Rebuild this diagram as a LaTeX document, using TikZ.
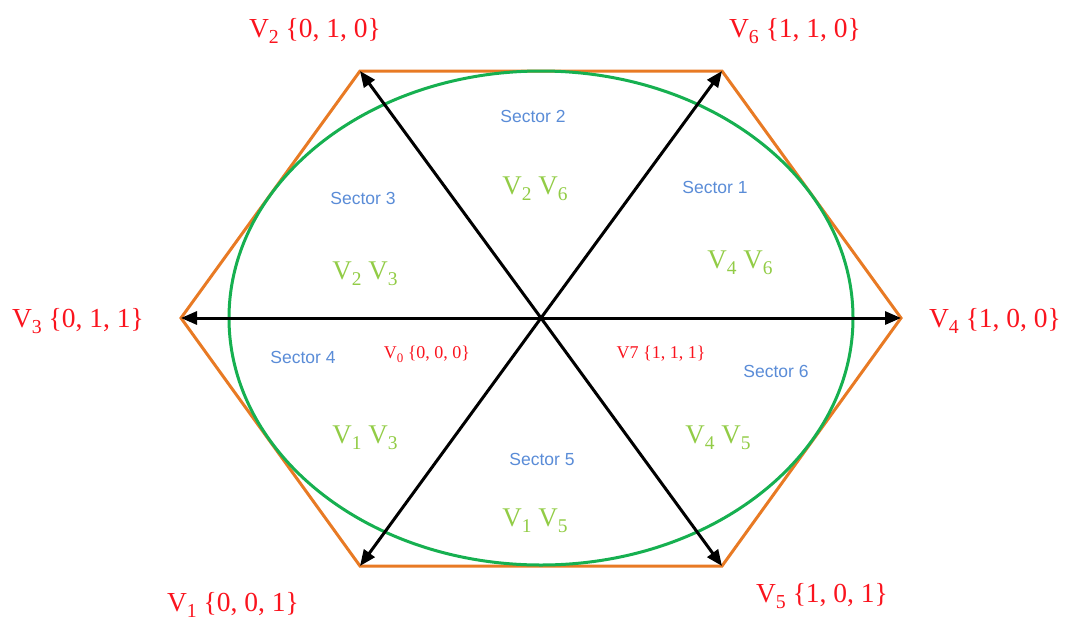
\documentclass[tikz,border=0pt]{standalone}
\usepackage{fontspec}
\setmainfont{Liberation Serif}
\newfontfamily\sectorfont{Liberation Sans}
\usetikzlibrary{arrows.meta}
\definecolor{hexline}{RGB}{232, 122, 36}
\definecolor{ellline}{RGB}{22, 176, 80}
\definecolor{vecred}{RGB}{250, 20, 30}
\definecolor{pairgreen}{RGB}{146, 204, 70}
\definecolor{sectblue}{RGB}{90, 140, 215}
\newcommand{\vsub}[1]{\raisebox{-0.22em}{\scalebox{0.72}{#1}}}
\tikzset{
  vlabel/.style={text=vecred, font=\fontsize{27.5}{30}\selectfont, inner sep=0pt},
  zlabel/.style={text=vecred, font=\fontsize{18}{20}\selectfont, inner sep=0pt},
  pair/.style={text=pairgreen, font=\fontsize{27}{30}\selectfont, inner sep=0pt},
  sector/.style={text=sectblue, font=\sectorfont\fontsize{17.5}{19}\selectfont, inner sep=0pt},
  vec/.style={line width=3pt, -{Triangle[length=16pt, width=13pt]}}
}

\begin{document}
\begin{tikzpicture}[x=1pt, y=-1pt]
  \useasboundingbox (0,0) rectangle (1070,624);
  % hexagon corners
  \coordinate (O) at (541,318);
  \coordinate (V4) at (901,318);
  \coordinate (V6) at (722,71);
  \coordinate (V2) at (360,71);
  \coordinate (V3) at (181,318);
  \coordinate (V1) at (360,566);
  \coordinate (V5) at (722,566);
  \draw[hexline, line width=3pt, line join=miter]
    (V4) -- (V6) -- (V2) -- (V3) -- (V1) -- (V5) -- cycle;
  \draw[ellline, line width=3pt] (O) ellipse (312 and 247);
  \foreach \v in {V1, V2, V3, V4, V5, V6}
    \draw[vec] (O) -- (\v);
  % vector labels
  \node[vlabel] (lV2) at (315,31) {V\vsub{2} \{0, 1, 0\}};
  \node[vlabel] (lV6) at (795,31) {V\vsub{6} \{1, 1, 0\}};
  \node[vlabel] (lV3) at (78,321) {V\vsub{3} \{0, 1, 1\}};
  \node[vlabel] (lV4) at (995,321) {V\vsub{4} \{1, 0, 0\}};
  \node[vlabel] (lV1) at (233,605) {V\vsub{1} \{0, 0, 1\}};
  \node[vlabel] (lV5) at (822,596) {V\vsub{5} \{1, 0, 1\}};
  \node[zlabel] (lV0) at (427,354) {V\vsub{0} \{0, 0, 0\}};
  \node[zlabel] (lV7) at (661,354) {V7 \{1, 1, 1\}};
  % sectors
  \node[sector] (s1) at (715,187) {Sector 1};
  \node[sector] (s2) at (533,116) {Sector 2};
  \node[sector] (s3) at (363,198) {Sector 3};
  \node[sector] (s4) at (303,357) {Sector 4};
  \node[sector] (s5) at (542,459) {Sector 5};
  \node[sector] (s6) at (776,371) {Sector 6};
  \node[pair] (p1) at (740,263) {V\vsub{4} V\vsub{6}};
  \node[pair] (p2) at (535,189) {V\vsub{2} V\vsub{6}};
  \node[pair] (p3) at (365,274) {V\vsub{2} V\vsub{3}};
  \node[pair] (p4) at (365,438) {V\vsub{1} V\vsub{3}};
  \node[pair] (p5) at (535,521) {V\vsub{1} V\vsub{5}};
  \node[pair] (p6) at (718,438) {V\vsub{4} V\vsub{5}};
\end{tikzpicture}
\end{document}
